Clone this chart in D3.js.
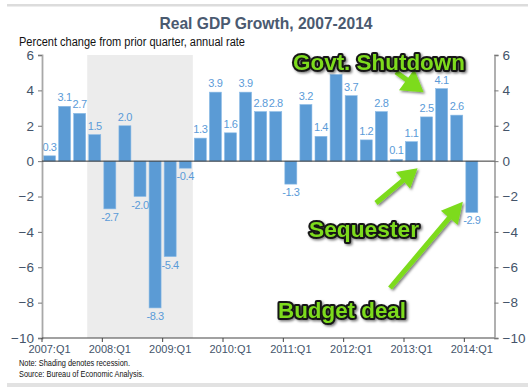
<!DOCTYPE html>
<html>
<head>
<meta charset="utf-8">
<script src="https://cdn.jsdelivr.net/npm/d3@7.9.0/dist/d3.min.js"></script>
<style>
  body { margin: 0; background: #fff; }
  svg { display: block; font-family: "Liberation Sans", Arial, sans-serif; }
</style>
</head>
<body>
<svg id="chart" width="528" height="387"></svg>
<script>
// quarterly real GDP growth, 2007:Q1 .. 2014:Q1
const quarters = [
  '2007:Q1','2007:Q2','2007:Q3','2007:Q4','2008:Q1','2008:Q2','2008:Q3','2008:Q4',
  '2009:Q1','2009:Q2','2009:Q3','2009:Q4','2010:Q1','2010:Q2','2010:Q3','2010:Q4',
  '2011:Q1','2011:Q2','2011:Q3','2011:Q4','2012:Q1','2012:Q2','2012:Q3','2012:Q4',
  '2013:Q1','2013:Q2','2013:Q3','2013:Q4','2014:Q1'
];
const growth = [
  0.3, 3.1, 2.7, 1.5, -2.7, 2.0, -2.0, -8.3,
  -5.4, -0.4, 1.3, 3.9, 1.6, 3.9, 2.8, 2.8,
  -1.3, 3.2, 1.4, 4.9, 3.7, 1.2, 2.8, 0.1,
  1.1, 2.5, 4.1, 2.6, -2.9
];
const yTicks = [-10, -8, -6, -4, -2, 0, 2, 4, 6];
const xTickLabels = ['2007:Q1','2008:Q1','2009:Q1','2010:Q1','2011:Q1','2012:Q1','2013:Q1','2014:Q1'];
const recession = ['2007:Q4', '2009:Q2'];
// label sits under the "Govt. Shutdown" callout in the original
const hiddenLabels = ['2011:Q4'];

const svg = d3.select('#chart');
const x = d3.scaleLinear().domain([0, 30]).range([42, 494.5]);
const y = d3.scaleLinear().domain([-10, 6]).range([338, 55]);
const idx = (q) => quarters.indexOf(q);

const blue = '#5b9bd5';
const green = '#7ddb1e';
const slate = '#44546a';

const defs = svg.append('defs');
defs.append('filter').attr('id', 'shadow')
  .attr('x', '-20%').attr('y', '-20%').attr('width', '140%').attr('height', '160%')
  .append('feDropShadow')
  .attr('dx', 1.5).attr('dy', 1.5).attr('stdDeviation', 1.2)
  .attr('flood-color', '#000').attr('flood-opacity', 0.5);

// frame strips
svg.append('rect').attr('x', 7).attr('y', 4).attr('width', 521).attr('height', 2.5).attr('fill', '#dcdcdc');
svg.append('rect').attr('x', 7).attr('y', 383).attr('width', 521).attr('height', 4).attr('fill', '#e2e2e2');

// titles
svg.append('text').attr('x', 266).attr('y', 29).attr('text-anchor', 'middle')
  .attr('font-size', 17).attr('font-weight', 'bold').attr('fill', '#4a5a70')
  .attr('textLength', 213).attr('lengthAdjust', 'spacingAndGlyphs')
  .text('Real GDP Growth, 2007-2014');
svg.append('text').attr('x', 19).attr('y', 46)
  .attr('font-size', 12).attr('fill', '#111')
  .attr('textLength', 226).attr('lengthAdjust', 'spacingAndGlyphs')
  .text('Percent change from prior quarter, annual rate');

// recession shading
svg.append('rect')
  .attr('x', x(idx(recession[0])))
  .attr('y', y(6))
  .attr('width', x(idx(recession[1]) + 1) - x(idx(recession[0])))
  .attr('height', y(-10) - y(6))
  .attr('fill', '#ececec');

// bars
const bw = 12;
svg.append('g').selectAll('rect').data(growth).join('rect')
  .attr('x', (d, i) => x(i) + 1.5)
  .attr('y', (d) => y(Math.max(0, d)))
  .attr('width', bw)
  .attr('height', (d) => Math.abs(y(d) - y(0)))
  .attr('fill', blue)
  .attr('stroke', '#8bbbe6').attr('stroke-width', 0.6);

// value labels
const labelled = growth.map((v, i) => ({ v, i })).filter((d) => !hiddenLabels.includes(quarters[d.i]));
svg.append('g').selectAll('text').data(labelled).join('text')
  .attr('x', (d) => x(d.i) + 1.5 + bw / 2)
  .attr('y', (d) => d.v >= 0 ? y(d.v) - 5 : y(d.v) + 12)
  .attr('text-anchor', 'middle')
  .attr('font-size', 11).attr('letter-spacing', -0.4)
  .attr('fill', '#5b9bd8')
  .text((d) => d.v.toFixed(1));

// axes
const leftAxis = svg.append('g').attr('transform', `translate(${x(0)},0)`)
  .call(d3.axisLeft(y).tickValues(yTicks).tickSize(4).tickPadding(4));
const rightAxis = svg.append('g').attr('transform', `translate(${x(30)},0)`)
  .call(d3.axisRight(y).tickValues(yTicks).tickSize(4).tickPadding(4));
[leftAxis, rightAxis].forEach((g) => {
  g.select('.domain').attr('stroke', '#a8a8a8').attr('stroke-width', 1.8);
  g.selectAll('.tick line').attr('stroke', '#777');
  g.selectAll('.tick text').attr('font-size', 13.5).attr('fill', slate)
    .attr('font-family', '"Liberation Sans", Arial, sans-serif');
});

// zero line
svg.append('line').attr('x1', x(0)).attr('x2', x(30)).attr('y1', y(0)).attr('y2', y(0))
  .attr('stroke', '#333').attr('stroke-width', 1);

// bottom axis
const bottom = svg.append('g').attr('transform', `translate(0,${y(-10)})`);
bottom.append('line').attr('x1', x(0)).attr('x2', x(30)).attr('stroke', '#444').attr('stroke-width', 1.2);
bottom.selectAll('line.tk').data(xTickLabels).join('line').attr('class', 'tk')
  .attr('x1', (d) => x(idx(d))).attr('x2', (d) => x(idx(d)))
  .attr('y1', 0).attr('y2', 4).attr('stroke', '#444');
bottom.selectAll('text').data(xTickLabels).join('text')
  .attr('x', (d) => x(idx(d)) + 1.5 + bw / 2)
  .attr('y', 15).attr('text-anchor', 'middle')
  .attr('font-size', 11).attr('fill', slate)
  .text((d) => d);

// notes
svg.append('text').attr('x', 19).attr('y', 366).attr('font-size', 9).attr('fill', '#111')
  .attr('textLength', 111).attr('lengthAdjust', 'spacingAndGlyphs')
  .text('Note: Shading denotes recession.');
svg.append('text').attr('x', 19).attr('y', 376.5).attr('font-size', 9).attr('fill', '#111')
  .attr('textLength', 125).attr('lengthAdjust', 'spacingAndGlyphs')
  .text('Source: Bureau of Economic Analysis.');

// annotation arrows
function arrow(x1, y1, x2, y2, shaft, headW, headL) {
  const dx = x2 - x1, dy = y2 - y1;
  const len = Math.hypot(dx, dy);
  const ux = dx / len, uy = dy / len;
  const nx = -uy, ny = ux;
  const bx = x2 - ux * headL, by = y2 - uy * headL;
  const p = [
    [x1 + nx * shaft / 2, y1 + ny * shaft / 2],
    [bx + nx * shaft / 2, by + ny * shaft / 2],
    [bx + nx * headW / 2, by + ny * headW / 2],
    [x2, y2],
    [bx - nx * headW / 2, by - ny * headW / 2],
    [bx - nx * shaft / 2, by - ny * shaft / 2],
    [x1 - nx * shaft / 2, y1 - ny * shaft / 2]
  ];
  return 'M' + p.map((q) => q.join(',')).join('L') + 'Z';
}
const arrows = svg.append('g').attr('filter', 'url(#shadow)');
arrows.append('path').attr('d', arrow(396, 72, x(25.3), y(3.9), 5, 26, 21)).attr('fill', green);
arrows.append('path').attr('d', arrow(376, 203, x(24.9), y(-0.4), 5, 22, 19)).attr('fill', green);
arrows.append('path').attr('d', arrow(390, 288, x(27.9), y(-2.3), 5, 22, 21)).attr('fill', green);

// annotation labels
const notes = [
  { text: 'Govt. Shutdown', x: 293, y: 70, w: 172 },
  { text: 'Sequester', x: 309, y: 237, w: 110 },
  { text: 'Budget deal', x: 278, y: 318, w: 128 }
];
svg.append('g').attr('filter', 'url(#shadow)')
  .selectAll('text').data(notes).join('text')
  .attr('x', (d) => d.x).attr('y', (d) => d.y)
  .attr('font-size', 22).attr('font-weight', 'bold')
  .attr('textLength', (d) => d.w).attr('lengthAdjust', 'spacingAndGlyphs')
  .attr('fill', green).attr('stroke', '#151515').attr('stroke-width', 4)
  .attr('stroke-linejoin', 'round').attr('paint-order', 'stroke')
  .text((d) => d.text);
</script>
</body>
</html>
